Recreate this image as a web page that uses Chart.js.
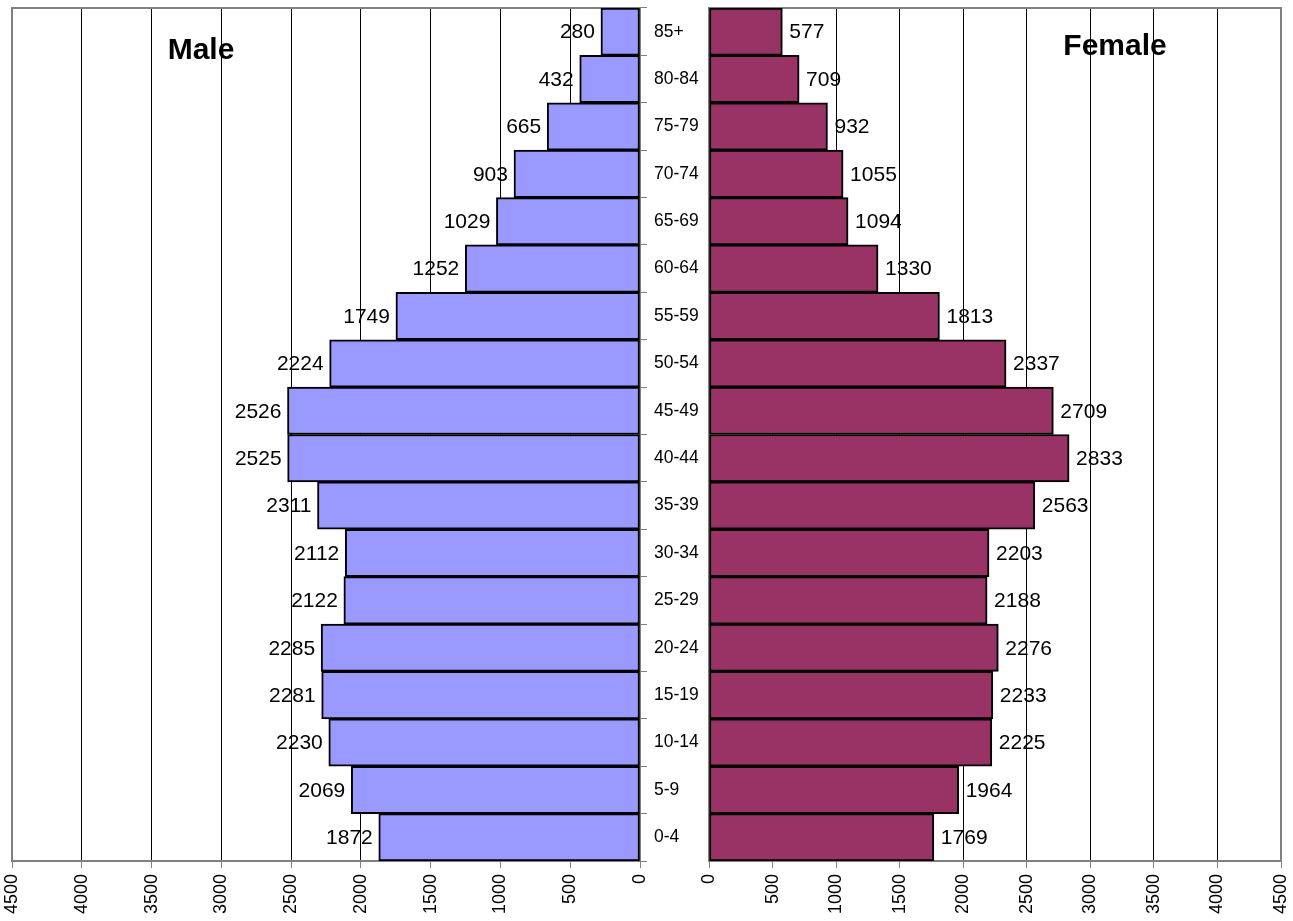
<!DOCTYPE html>
<html>
<head>
<meta charset="utf-8">
<script src="https://cdn.jsdelivr.net/npm/chart.js@4/dist/chart.umd.min.js"></script>
<style>
    html, body { margin: 0; padding: 0; background: #fff; }
    #wrap { position: relative; width: 1293px; height: 921px; }
    #wrap canvas { position: absolute; left: 0; top: 0; }
</style>
</head>
<body>
<div id="wrap">
    <canvas id="maleChart" width="1293" height="921"></canvas>
    <canvas id="femaleChart" width="1293" height="921"></canvas>
</div>
<script>
const ageGroups = ["0-4", "5-9", "10-14", "15-19", "20-24", "25-29", "30-34", "35-39", "40-44",
    "45-49", "50-54", "55-59", "60-64", "65-69", "70-74", "75-79", "80-84", "85+"];
const maleCounts = [1872, 2069, 2230, 2281, 2285, 2122, 2112, 2311, 2525,
    2526, 2224, 1749, 1252, 1029, 903, 665, 432, 280];
const femaleCounts = [1769, 1964, 2225, 2233, 2276, 2188, 2203, 2563, 2833,
    2709, 2337, 1813, 1330, 1094, 1055, 932, 709, 577];
const axisMax = 4500;
const axisStep = 500;

const FONT = "Arial, 'Liberation Sans', sans-serif";
Chart.defaults.color = "#000";
Chart.defaults.font.family = FONT;

// grey frame round the plot area, under the bars
const plotFrame = {
    id: "plotFrame",
    beforeDatasetsDraw(chart) {
        const a = chart.chartArea;
        const ctx = chart.ctx;
        ctx.save();
        ctx.strokeStyle = "#808080";
        ctx.lineWidth = 2;
        ctx.strokeRect(a.left, a.top, a.right - a.left, a.bottom - a.top);
        ctx.restore();
    }
};

// value labels at the outer end of each bar + panel title
const barValues = {
    id: "barValues",
    afterDatasetsDraw(chart) {
        const opts = chart.options.plugins.barValues;
        const ctx = chart.ctx;
        const meta = chart.getDatasetMeta(0);
        const values = chart.data.datasets[0].data;
        ctx.save();
        ctx.fillStyle = "#000";
        ctx.font = "21px " + FONT;
        ctx.textBaseline = "middle";
        ctx.textAlign = opts.side === "left" ? "right" : "left";
        meta.data.forEach((bar, i) => {
            const x = opts.side === "left" ? bar.x - 6 : bar.x + 7;
            ctx.fillText(String(values[i]), x, bar.y + 1);
        });
        ctx.font = "bold 30px " + FONT;
        ctx.textAlign = "center";
        ctx.textBaseline = "alphabetic";
        ctx.fillText(opts.title, opts.titleX, opts.titleY);
        ctx.restore();
    }
};

// no extra room for edge labels, layout padding decides the plot area
function noEdgePadding(s) {
    s.paddingLeft = 0;
    s.paddingRight = 0;
    s.paddingTop = 0;
    s.paddingBottom = 0;
}

function valueAxis(reverse) {
    return {
        type: "linear",
        reverse: reverse,
        min: 0,
        max: axisMax,
        afterFit: s => { s.height = 60; noEdgePadding(s); },
        ticks: {
            stepSize: axisStep,
            minRotation: 90,
            maxRotation: 90,
            padding: 6,
            font: { size: 18 },
            callback: v => String(v)
        },
        grid: {
            color: "#000",
            lineWidth: 1,
            tickColor: "#808080",
            tickLength: 7
        },
        border: { color: "#808080", width: 2 }
    };
}

new Chart(document.getElementById("maleChart"), {
    type: "bar",
    data: {
        labels: ageGroups,
        datasets: [{
            label: "Male",
            data: maleCounts,
            backgroundColor: "#9999FF",
            borderColor: "#000",
            borderWidth: 2,
            borderSkipped: false,
            barPercentage: 1,
            categoryPercentage: 1
        }]
    },
    options: {
        indexAxis: "y",
        responsive: false,
        animation: false,
        layout: { padding: { left: 12, right: 593, top: 8, bottom: 0 } },
        plugins: {
            legend: { display: false },
            tooltip: { enabled: false },
            barValues: { side: "left", title: "Male", titleX: 201, titleY: 59 }
        },
        scales: {
            x: valueAxis(true),
            y: {
                type: "category",
                position: "right",
                reverse: true,
                afterFit: s => { s.width = 60; noEdgePadding(s); },
                ticks: { padding: 7, font: { size: 17.5 } },
                grid: {
                    drawOnChartArea: false,
                    tickLength: 7,
                    tickColor: "#808080"
                },
                border: { color: "#000", width: 1 }
            }
        }
    },
    plugins: [plotFrame, barValues]
});

new Chart(document.getElementById("femaleChart"), {
    type: "bar",
    data: {
        labels: ageGroups,
        datasets: [{
            label: "Female",
            data: femaleCounts,
            backgroundColor: "#993366",
            borderColor: "#000",
            borderWidth: 2,
            borderSkipped: false,
            barPercentage: 1,
            categoryPercentage: 1
        }]
    },
    options: {
        indexAxis: "y",
        responsive: false,
        animation: false,
        layout: { padding: { left: 709, right: 12, top: 8, bottom: 0 } },
        plugins: {
            legend: { display: false },
            tooltip: { enabled: false },
            barValues: { side: "right", title: "Female", titleX: 1115, titleY: 55 }
        },
        scales: {
            x: valueAxis(false),
            y: {
                type: "category",
                display: false,
                reverse: true
            }
        }
    },
    plugins: [plotFrame, barValues]
});
</script>
</body>
</html>
